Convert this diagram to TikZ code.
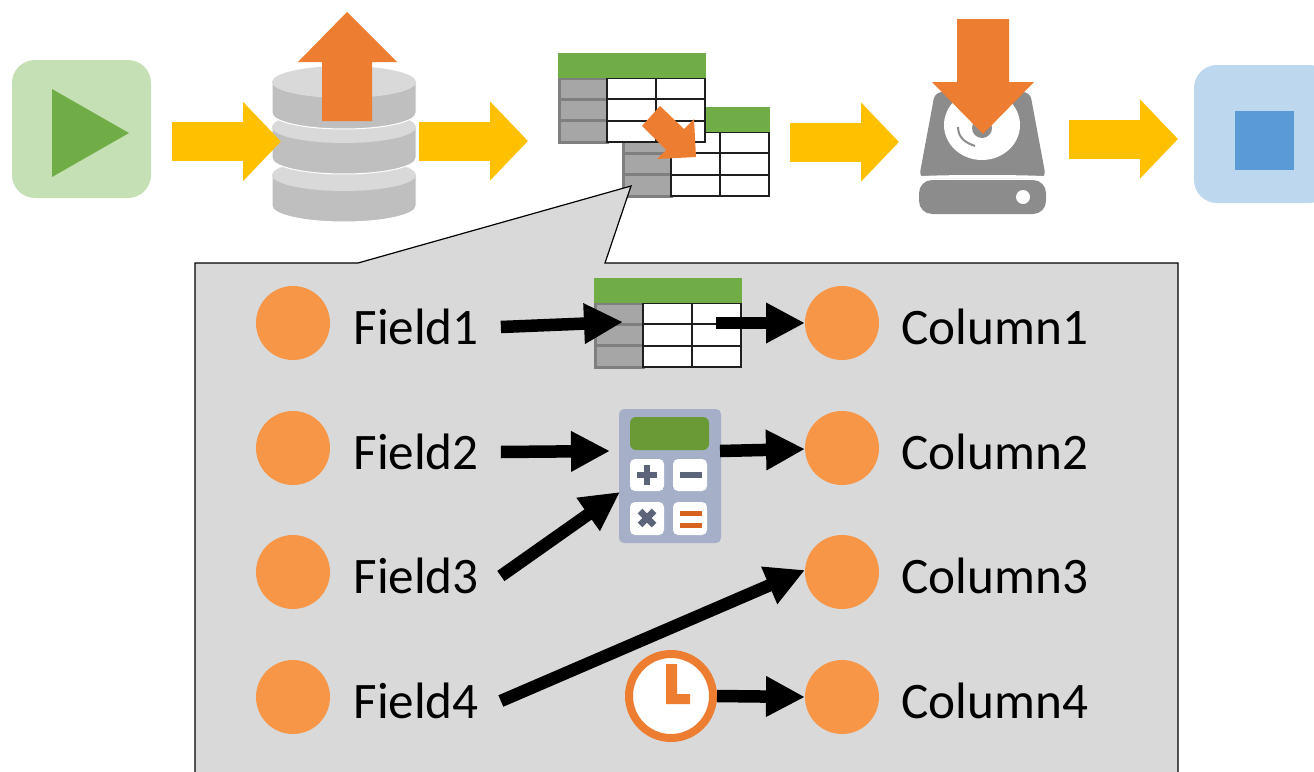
\documentclass[tikz,border=0pt]{standalone}
\usepackage{fontspec}
\setmainfont{Carlito}
\usetikzlibrary{arrows.meta}
\definecolor{oarrow}{HTML}{ED7D31}
\definecolor{ydk}{HTML}{FFC000}
\definecolor{grn}{HTML}{70AD47}
\definecolor{dot}{HTML}{F79646}
\definecolor{panel}{HTML}{D9D9D9}
\definecolor{dbbody}{HTML}{BFBFBF}
\definecolor{hdd}{HTML}{8C8C8C}
\definecolor{keyg}{HTML}{5B6478}
\definecolor{startfill}{HTML}{C5E0B4}
\definecolor{stopfill}{HTML}{BDD7EE}
\definecolor{stopmark}{HTML}{5B9BD5}
\definecolor{calcbody}{HTML}{A5B0C8}
\definecolor{calcscreen}{HTML}{6A9A35}
\definecolor{calceq}{HTML}{D6621E}
\definecolor{rowgray}{HTML}{A6A6A6}
\definecolor{rowline}{HTML}{7F7F7F}
\newcommand{\cyl}[2]{% centre x, top y
  \fill[dbbody,draw=white,line width=1pt] (#1-72,#2) -- (#1-72,#2+31) arc[start angle=180,end angle=360,x radius=72pt,y radius=16pt] -- (#1+72,#2) arc[start angle=0,end angle=180,x radius=72pt,y radius=16pt] -- cycle;
  \fill[panel] (#1,#2) ellipse[x radius=72pt,y radius=16pt];
}
\newcommand{\minitable}[2]{% x,y offset
  \begin{scope}[shift={(#1,#2)}]
    \filldraw[fill=rowgray,draw=rowline,line width=3pt] (559.5,78) rectangle (607,142);
    \draw[rowline,line width=3pt] (559,99) -- (607,99) (559,120.5) -- (607,120.5);
    \filldraw[fill=white,draw=black!88,line width=2pt] (607,78) rectangle (704.5,142);
    \draw[black!88,line width=2pt] (656,78) -- (656,142) (607,99) -- (704.5,99) (607,120.5) -- (704.5,120.5);
    \fill[grn] (558,53) rectangle (705.5,78);
  \end{scope}
}
\tikzset{
  yarrow/.style={draw=ydk,line width=39pt,-{Triangle[length=38pt,width=77pt]}},
  karrow/.style={draw=black,line width=12.5pt,-{Triangle[length=39pt,width=38pt]}},
  dotnode/.style={circle,fill=dot,minimum size=74pt,inner sep=0pt,outer sep=0pt},
  label/.style={anchor=west,inner sep=0pt,outer sep=0pt,text height=34pt,text depth=0pt,font=\fontsize{51.2pt}{51.2pt}\selectfont},
  slot/.style={rectangle,inner sep=0pt,outer sep=0pt,minimum width=#1},
  panelbox/.style={rectangle,rounded corners=23pt,minimum width=139pt,minimum height=138pt,inner sep=0pt,outer sep=0pt},
  orange/.style={fill=oarrow},
  key/.style={fill=white,rounded corners=5pt},
  glyph/.style={draw=keyg,line width=6.5pt},
}
\begin{document}
\begin{tikzpicture}[x=1pt,y=-1pt]
\useasboundingbox (0,0) rectangle (1314,771);
% start
\node[panelbox,fill=startfill] (start) at (81.5,129) {};
\fill[grn] (52,89) -- (129,133) -- (52,177) -- cycle;
% stop
\node[panelbox,fill=stopfill] (stop) at (1263.5,134) {};
\fill[stopmark] (1235,111) rectangle (1294,170);
% database
\cyl{344}{175}
\cyl{344}{127}
\cyl{344}{82}
\node[slot=144pt,minimum height=157pt] (db) at (344,143.5) {};
% tables
\minitable{64}{54}
\minitable{0}{0}
\node[slot=211pt,minimum height=143pt] (tables) at (663.5,124.5) {};
\fill[orange] (660,106) -- (642,126) -- (666,150) -- (657,159) -- (696,157) -- (694,119) -- (684,129) -- cycle;
% hdd
\fill[hdd,rounded corners=7pt] (919,178) -- (935,92) -- (1030,92) -- (1046,178) -- cycle;
\fill[white] (982,125) ellipse[x radius=38pt,y radius=35pt];
\fill[hdd] (982,128) circle[radius=10pt];
\draw[hdd,line width=2pt] (958,127) .. controls (958,138) and (966,143) .. (975,146);
\draw[white,line width=3pt] (916,178) .. controls (935,176) and (1030,176) .. (1049,178);
\fill[hdd,rounded corners=13pt] (919,180) rectangle (1046,214);
\fill[white] (1023,197) circle[radius=7pt];
\node[slot=127pt,minimum height=122pt] (drive) at (982.5,153) {};
% yellow arrows
\draw[yarrow] ([shift={(21,12.5)}]start.east) -- ([shift={(9,-2)}]db.west);
\draw[yarrow] ([shift={(3,-2.5)}]db.east) -- ([shift={(-30,16.5)}]tables.west);
\draw[yarrow] ([shift={(21,17.5)}]tables.east) -- ([shift={(-20,-11)}]drive.west);
\draw[yarrow] ([shift={(23,-14)}]drive.east) -- ([shift={(-16,5)}]stop.west);
% orange up and down
\fill[orange] (347,12) -- (397,62) -- (372,62) -- (372,121) -- (322,121) -- (322,62) -- (298,62) -- cycle;
\fill[orange] (957,19) -- (1009,19) -- (1009,82) -- (1034,82) -- (983,134) -- (932,82) -- (957,82) -- cycle;
% callout
\filldraw[fill=panel,draw=black,line width=1.2pt] (195,780) -- (195,263) -- (358,263) -- (631,186) -- (605,263) -- (1178,263) -- (1178,780);
% dots and labels
\foreach \n/\y in {1/323,2/448,3/572,4/697}{
  \node[dotnode] (a\n) at (293,\y) {};
  \node[dotnode] (c\n) at (842,\y) {};
  \node[label] (f\n) at (353.5,\y+4) {Field\n};
  \node[label] (l\n) at (901.5,\y+4) {Column\n};
}
% icons
\minitable{36}{225}
\node[slot=148pt,minimum height=90pt] (tbl) at (668,323) {};
\fill[calcbody,rounded corners=5pt] (619,409) rectangle (721,543);
\fill[calcscreen,rounded corners=6pt] (630,417) rectangle (709,450);
\fill[key] (630,459) rectangle (664,491);
\fill[key] (673,459) rectangle (707,491);
\fill[key] (630,502) rectangle (664,535);
\fill[key] (673,502) rectangle (707,535);
\draw[glyph] (637,475) -- (657,475) (647,465) -- (647,485);
\draw[glyph] (680,475) -- (702,475);
\draw[glyph] (640,511) -- (654,525) (654,511) -- (640,525);
\draw[calceq,line width=5pt] (680,513) -- (702,513) (680,525) -- (702,525);
\node[slot=102pt,minimum height=134pt] (calc) at (670,476) {};
% black arrows
\draw[karrow] ([xshift=22pt]f1.east) -- ([shift={(29,-1)}]tbl.west);
\draw[karrow] ([xshift=-26pt]tbl.east) -- (c1.west);
\draw[karrow] ([xshift=22pt]f2.east) -- ([shift={(-9,-25)}]calc.west);
\draw[karrow] ([shift={(-1,-25)}]calc.east) -- ([shift={(0,1)}]c2.west);
\draw[karrow] ([xshift=22pt]f3.east) -- ([shift={(1,16)}]calc.west);
\draw[karrow] ([xshift=22pt]f4.east) -- ([shift={(0,-2)}]c3.west);
\node[circle,draw=oarrow,fill=white,line width=8pt,minimum size=84pt,inner sep=0pt,outer sep=0pt] (clock) at (671,696) {};
\draw[karrow] (clock.east) ++(4,0) -- (c4.west);
\fill[orange] (666,664) -- (677,664) -- (677,694) -- (690,694) -- (690,704) -- (666,704) -- cycle;
\end{tikzpicture}
\end{document}
